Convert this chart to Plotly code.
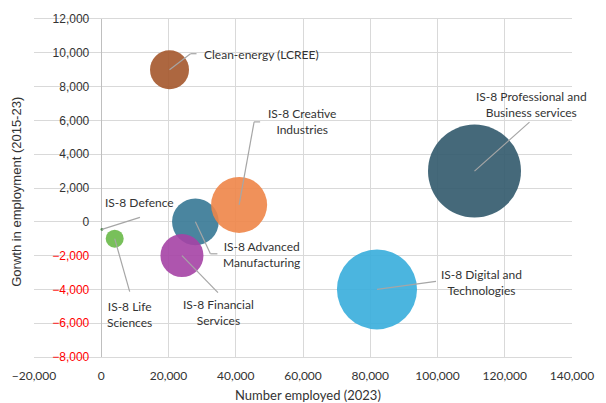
import plotly.graph_objects as go

# Industry clusters: size of workforce (2023) vs change in employment (2015-23)
sectors = [
    "IS-8 Defence",
    "IS-8 Life Sciences",
    "IS-8 Advanced Manufacturing",
    "IS-8 Creative Industries",
    "IS-8 Financial Services",
    "IS-8 Digital and Technologies",
    "IS-8 Professional and Business services",
    "Clean-energy (LCREE)",
]
employed_2023 = [200, 4000, 28000, 41000, 24000, 82000, 111000, 20300]
growth_2015_23 = [-450, -1000, 0, 1000, -2000, -4000, 3000, 9000]
bubble_size = [2, 81, 545, 784, 462, 1600, 2160, 380]

colors = ["#3F7F3F", "#69B948", "#367895", "#EE8548", "#A542A5",
          "#37ADDB", "#31596B", "#A4572B"]

# Label text (with line breaks) and placement in pixels relative to the bubble centre
label_text = [
    "IS-8 Defence",
    "IS-8 Life<br>Sciences",
    "IS-8 Advanced<br>Manufacturing",
    "IS-8 Creative<br>Industries",
    "IS-8 Financial<br>Services",
    "IS-8 Digital and<br>Technologies",
    "IS-8 Professional and<br>Business services",
    "Clean-energy (LCREE)",
]
# (x shift, y shift, xanchor); y shift positive = up
label_pos = [
    (38, 27, "center"),
    (15, -76, "center"),
    (26, -33, "left"),
    (27, 83, "left"),
    (37, -57, "center"),
    (105, 7, "center"),
    (57, 67, "center"),
    (32, 15, "left"),
]
# leader-line vertices in pixels relative to the bubble centre (y positive = up)
leaders = [
    [(0, 0), (38, 12)],
    [(0, 0), (15, -53)],
    [(0, 0), (15, -32), (22, -32)],
    [(0, 0), (15, 83), (21, 83)],
    [(0, 0), (36, -37)],
    [(0, 0), (59, 8)],
    [(0, 0), (55, 49)],
    [(0, 0), (21, 16), (27, 16)],
]

MAX_DIAMETER = 93

fig = go.Figure()
for i, name in enumerate(sectors):
    fig.add_trace(go.Scatter(
        x=[employed_2023[i]], y=[growth_2015_23[i]], name=name,
        mode="markers",
        marker=dict(size=[bubble_size[i]], sizemode="area",
                    sizeref=2.0 * max(bubble_size) / MAX_DIAMETER ** 2,
                    color=colors[i], opacity=0.9, line=dict(width=0)),
        showlegend=False,
    ))

shapes = []
annotations = []
label_font = dict(family="Lato, Open Sans, sans-serif", size=12, color="#333333")
for i in range(len(sectors)):
    pts = leaders[i]
    for (x0, y0), (x1, y1) in zip(pts[:-1], pts[1:]):
        shapes.append(dict(
            type="line", xref="x", yref="y",
            xsizemode="pixel", ysizemode="pixel",
            xanchor=employed_2023[i], yanchor=growth_2015_23[i],
            x0=x0, y0=y0, x1=x1, y1=y1,
            line=dict(color="#A6A6A6", width=1.2), layer="above",
        ))
    dx, dy, anchor = label_pos[i]
    annotations.append(dict(
        x=employed_2023[i], y=growth_2015_23[i], xref="x", yref="y",
        text=label_text[i], showarrow=False, xshift=dx, yshift=dy,
        xanchor=anchor, yanchor="middle", align="center", font=label_font,
    ))

annotations.append(dict(
    text="Gorwth in employment (2015-23)", textangle=-90,
    xref="paper", yref="paper", x=-0.0327, y=0.49,
    showarrow=False, xanchor="center", yanchor="middle",
    font=dict(family="Liberation Sans, Arial, sans-serif", size=13, color="#333333"),
))
annotations.append(dict(
    text="Number employed (2023)",
    xref="paper", yref="paper", x=0.51, y=-0.1124,
    showarrow=False, xanchor="center", yanchor="middle",
    font=dict(family="Lato, Open Sans, sans-serif", size=13, color="#333333"),
))

y_range = [-8000, 12000]
y_ticks = list(range(-8000, 12001, 2000))
y_ticks_neg = [v for v in y_ticks if v < 0]

x_min, x_max = -20000, 140000
grid = "#D9D9D9"
y_axis_pos = (0 - x_min) / (x_max - x_min)
tick_family = "Liberation Sans, Arial, sans-serif"

fig.update_layout(
    width=606, height=403,
    margin=dict(l=32, r=23, t=19, b=46),
    paper_bgcolor="white", plot_bgcolor="white",
    shapes=shapes, annotations=annotations,
    xaxis=dict(
        range=[x_min, x_max], dtick=20000, tick0=0, tickformat=",",
        showgrid=True, gridcolor=grid, gridwidth=1,
        zeroline=True, zerolinecolor="#BFBFBF", zerolinewidth=1,
        showline=True, linecolor=grid, mirror=True,
        ticks="", ticklabelstandoff=8,
        tickfont=dict(family="Lato, Open Sans, sans-serif", size=12, color="#333333"),
    ),
    # gridlines for every tick; labels only for zero and positive growth
    yaxis=dict(
        range=y_range, tickvals=y_ticks,
        ticktext=[f"{v:,}" if v >= 0 else "" for v in y_ticks],
        showgrid=True, gridcolor=grid, gridwidth=1,
        zeroline=True, zerolinecolor=grid, zerolinewidth=1,
        anchor="free", position=y_axis_pos,
        showline=False, ticks="", ticklabelstandoff=12,
        tickfont=dict(family=tick_family, size=12, color="#333333"),
    ),
    # negative growth labels in red, on an overlaid axis sharing the same scale
    yaxis2=dict(
        range=y_range, tickvals=y_ticks_neg, tickformat=",",
        overlaying="y", side="left", showgrid=False, zeroline=False,
        anchor="free", position=y_axis_pos,
        showline=False, ticks="", ticklabelstandoff=12,
        tickfont=dict(family=tick_family, size=12, color="#FF0000"),
    ),
)

# an empty trace keeps the overlaid axis drawn
fig.add_trace(go.Scatter(x=[None], y=[None], yaxis="y2", showlegend=False, hoverinfo="skip"))

fig.write_html("out.html")
